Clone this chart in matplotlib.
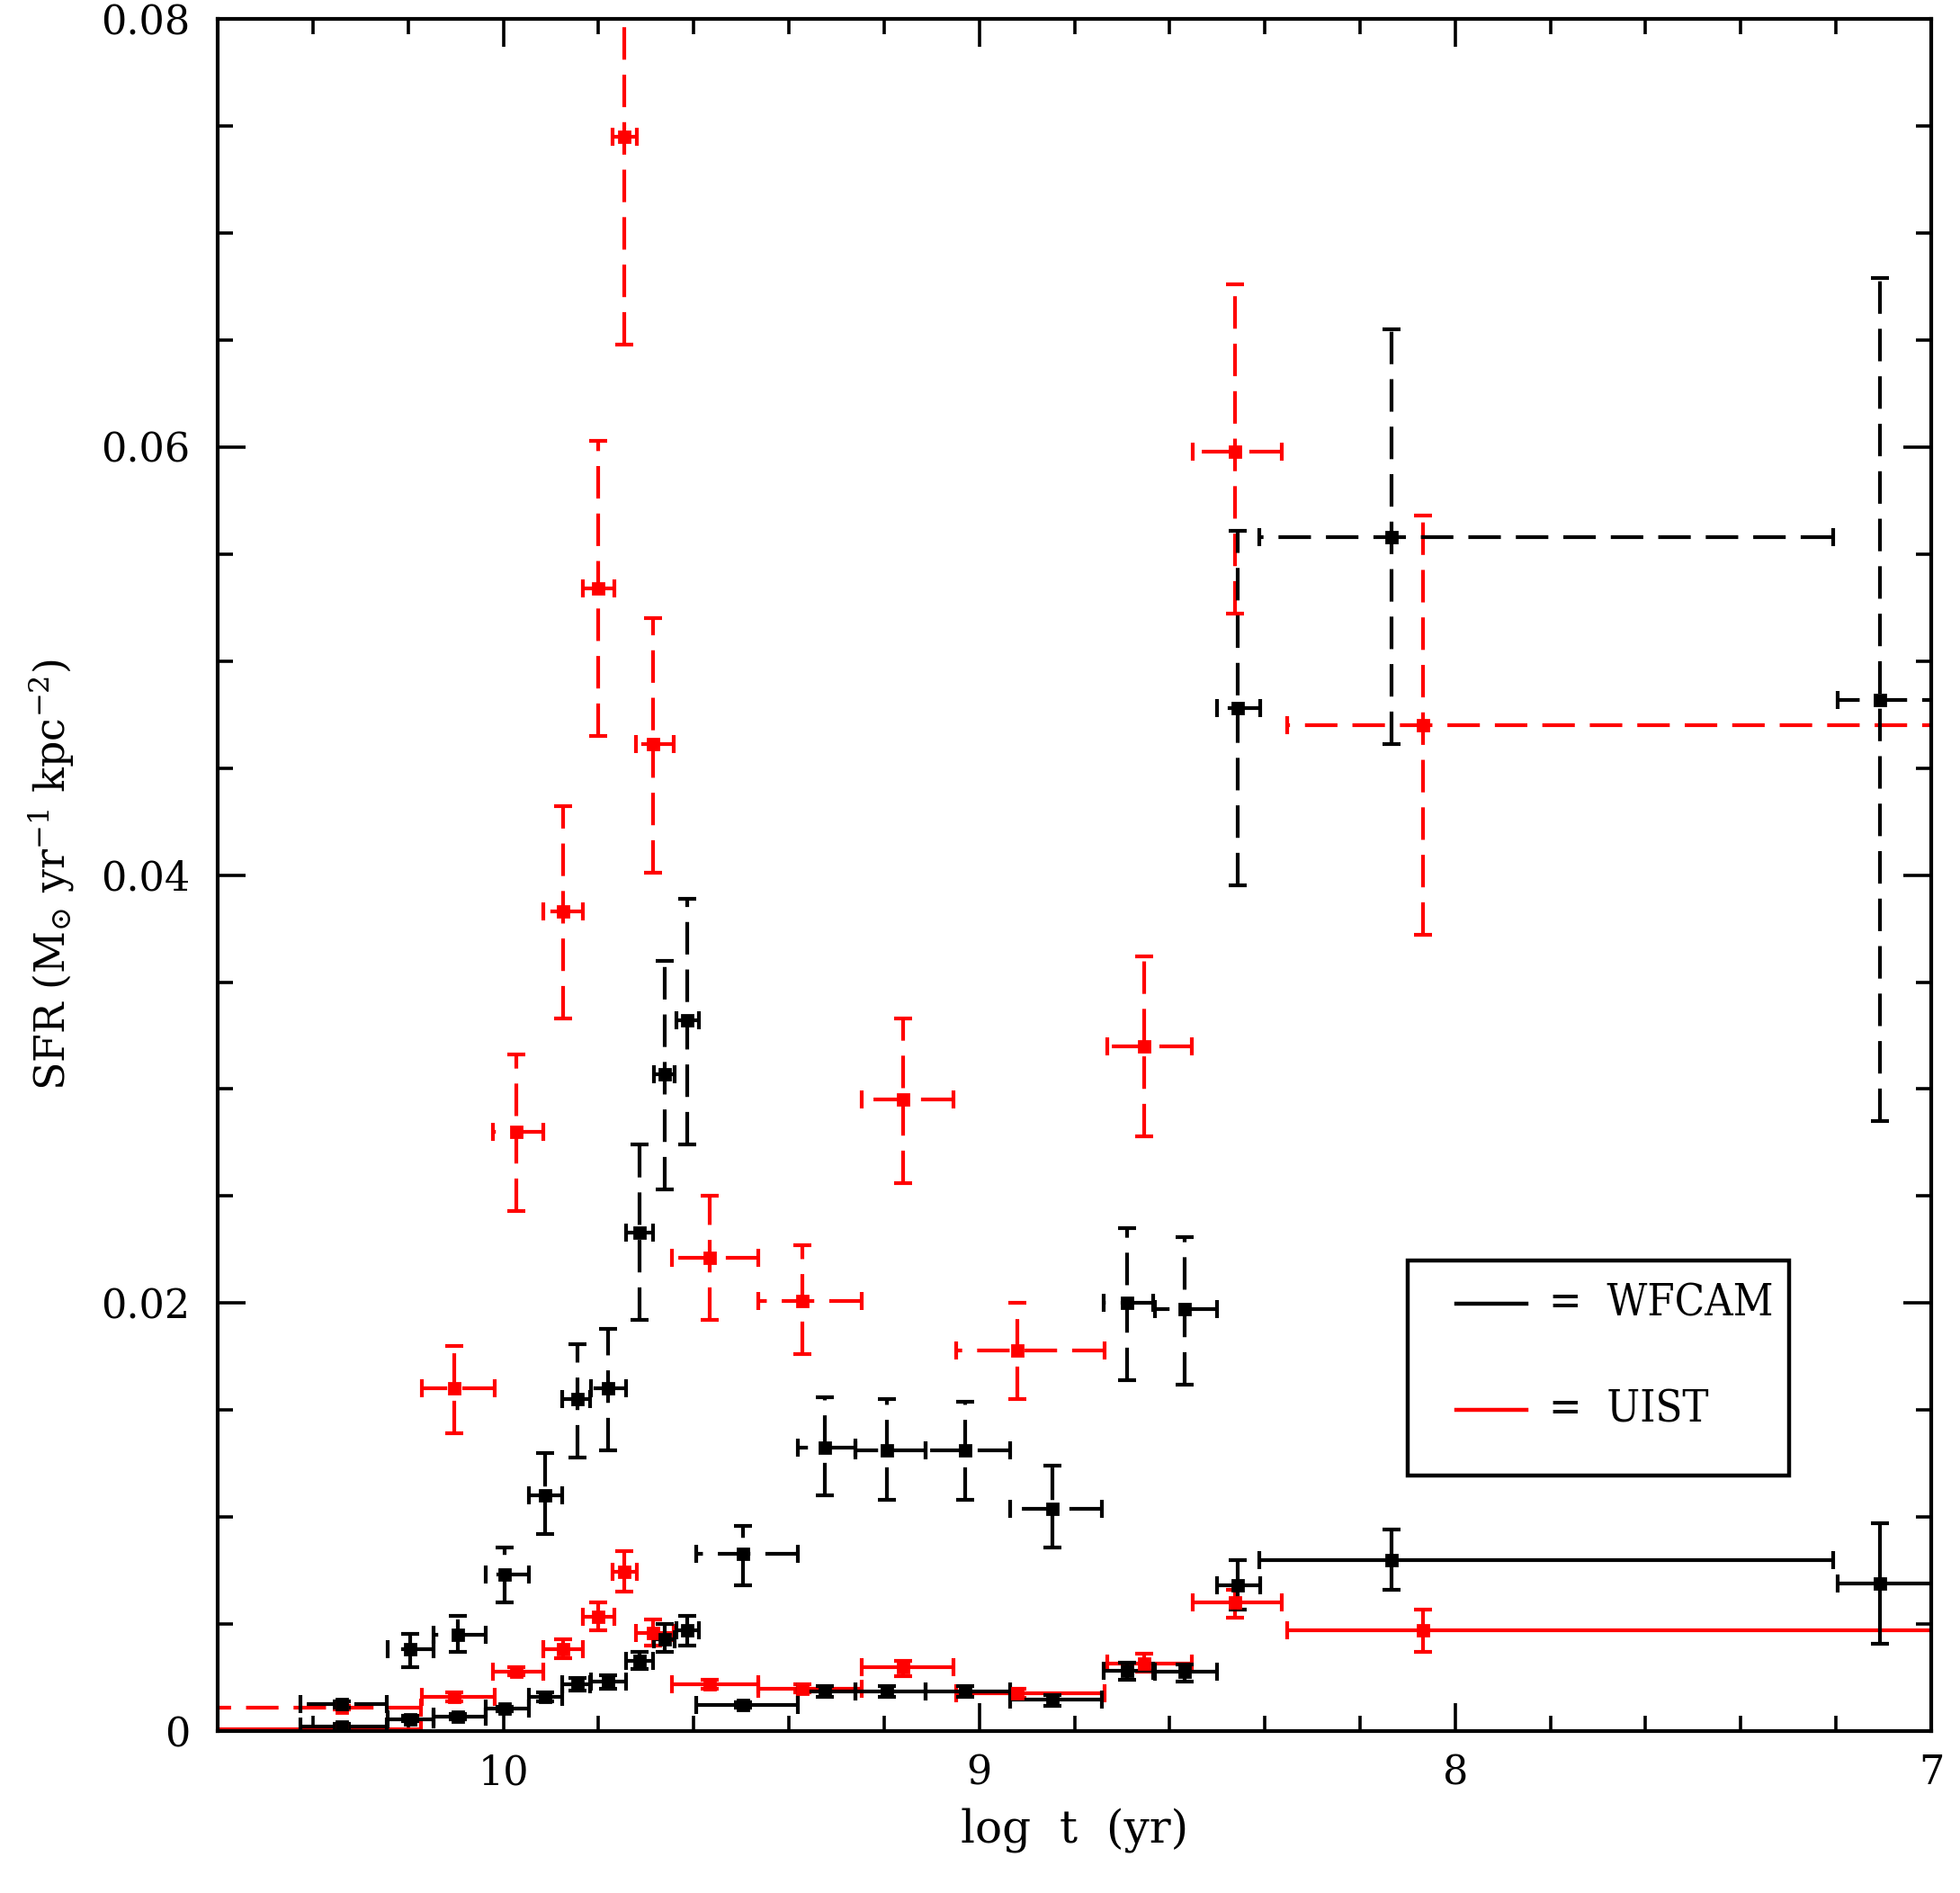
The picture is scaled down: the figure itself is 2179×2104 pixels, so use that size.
import matplotlib
matplotlib.use("Agg")
import matplotlib.pyplot as plt
import numpy as np

plt.rcParams['font.family'] = ['DejaVu Serif']
plt.rcParams['mathtext.fontset'] = 'dejavuserif'
plt.rcParams['lines.scale_dashes'] = False

# WFCAM age bins (log t): centre, old edge, young edge
wf_t = [10.34, 10.195, 10.095, 9.997, 9.912, 9.845, 9.78, 9.714, 9.66, 9.614,
        9.497, 9.325, 9.195, 9.03, 8.847, 8.689, 8.569, 8.457, 8.134, 7.107]
wf_old = [10.426, 10.243, 10.146, 10.037, 9.947, 9.876, 9.815, 9.742, 9.683, 9.637,
          9.594, 9.381, 9.261, 9.113, 8.935, 8.739, 8.631, 8.50, 8.411, 7.197]
wf_young = [10.245, 10.146, 10.037, 9.947, 9.877, 9.817, 9.742, 9.685, 9.64, 9.59,
            9.381, 9.261, 9.113, 8.935, 8.742, 8.634, 8.50, 8.41, 7.205, 6.95]

# WFCAM, solid solution
wf1_sfr = [0.00022, 0.00056, 0.00066, 0.00105, 0.0016, 0.0022, 0.0023, 0.0033, 0.0043, 0.0047,
           0.00122, 0.00186, 0.00186, 0.00186, 0.00148, 0.00283, 0.00276, 0.0068, 0.0080, 0.0069]
wf1_lo = [0.0001, 0.00045, 0.00055, 0.00095, 0.0014, 0.0019, 0.0020, 0.0029, 0.0037, 0.0040,
          0.0011, 0.0016, 0.0016, 0.0016, 0.0012, 0.0024, 0.0023, 0.0057, 0.0066, 0.0041]
wf1_hi = [0.00035, 0.0007, 0.0008, 0.00115, 0.0018, 0.0025, 0.0026, 0.0037, 0.0050, 0.0054,
          0.00135, 0.0021, 0.0021, 0.0021, 0.0017, 0.0032, 0.0031, 0.0080, 0.0094, 0.0097]

# WFCAM, dashed solution
wf2_sfr = [0.00126, 0.00385, 0.0045, 0.0073, 0.0110, 0.0155, 0.0160, 0.0233, 0.0307, 0.0332,
           0.0083, 0.01326, 0.0131, 0.0131, 0.0104, 0.0200, 0.0197, 0.0478, 0.0558, 0.0482]
wf2_lo = [0.0011, 0.0030, 0.0037, 0.0060, 0.0092, 0.0128, 0.0131, 0.0192, 0.0253, 0.0274,
          0.0068, 0.0110, 0.0108, 0.0108, 0.0086, 0.0164, 0.0162, 0.0395, 0.0461, 0.0285]
wf2_hi = [0.0014, 0.00455, 0.0054, 0.0086, 0.0130, 0.0181, 0.0188, 0.0274, 0.0360, 0.0389,
          0.0096, 0.0156, 0.0155, 0.0154, 0.0124, 0.0235, 0.0231, 0.0561, 0.0655, 0.0679]

# UIST age bins
ui_t = [10.34, 10.103, 9.973, 9.874, 9.8, 9.745, 9.685, 9.566, 9.371, 9.16, 8.92, 8.654, 8.463, 8.068]
ui_old = [10.65, 10.172, 10.021, 9.916, 9.832, 9.77, 9.722, 9.645, 9.465, 9.247, 9.049, 8.732, 8.551, 8.353]
ui_young = [10.173, 10.019, 9.916, 9.832, 9.766, 9.72, 9.642, 9.465, 9.247, 9.055, 8.736, 8.554, 8.364, 6.95]

# UIST, solid solution
ui1_sfr = [0.0001, 0.0016, 0.0028, 0.00385, 0.00534, 0.00745, 0.0046, 0.00218, 0.0020, 0.00297,
           0.00175, 0.00315, 0.0060, 0.0047]
ui1_lo = [0.0, 0.0014, 0.0026, 0.0034, 0.0047, 0.0065, 0.0040, 0.0020, 0.0018, 0.00255,
          0.00155, 0.0028, 0.0053, 0.0037]
ui1_hi = [0.0002, 0.0018, 0.0030, 0.0043, 0.0060, 0.0084, 0.0052, 0.0024, 0.0022, 0.0033,
          0.0020, 0.0036, 0.0066, 0.0057]

# UIST, dashed solution
ui2_sfr = [0.0011, 0.0160, 0.0280, 0.0383, 0.0534, 0.0745, 0.0461, 0.0221, 0.0201, 0.0295,
           0.0178, 0.0320, 0.0598, 0.0470]
ui2_lo = [0.0010, 0.0139, 0.0243, 0.0333, 0.0465, 0.0648, 0.0401, 0.0192, 0.0176, 0.0256,
          0.0155, 0.0278, 0.0522, 0.0372]
ui2_hi = [0.0012, 0.0180, 0.0316, 0.0432, 0.0603, 0.0860, 0.0520, 0.0250, 0.0227, 0.0333,
          0.0200, 0.0362, 0.0676, 0.0568]

DASH = (0, (13, 6))
LW = 1.5


def draw(ax, t, old, young, sfr, lo, hi, color, dashed):
    t = np.array(t); sfr = np.array(sfr)
    xerr = [t - np.array(young), np.array(old) - t]
    yerr = [sfr - np.array(lo), np.array(hi) - sfr]
    eb = ax.errorbar(t, sfr, xerr=xerr, yerr=yerr, fmt='s', color=color, ms=4.4,
                     elinewidth=LW, capsize=3.6, capthick=LW)
    if dashed:
        for lc in eb[2]:
            lc.set_linestyle(DASH)


fig = plt.figure(figsize=(2179 / 200, 2104 / 200), dpi=200)
ax = fig.add_axes([0.1111, 0.0855, 0.8742, 0.9045])

draw(ax, ui_t, ui_old, ui_young, ui2_sfr, ui2_lo, ui2_hi, '#ff0000', True)
draw(ax, ui_t, ui_old, ui_young, ui1_sfr, ui1_lo, ui1_hi, '#ff0000', False)
draw(ax, wf_t, wf_old, wf_young, wf2_sfr, wf2_lo, wf2_hi, 'black', True)
draw(ax, wf_t, wf_old, wf_young, wf1_sfr, wf1_lo, wf1_hi, 'black', False)

ax.set_xlim(10.6, 7.0)
ax.set_ylim(0, 0.08)
ax.set_xticks([10, 9, 8, 7])
ax.set_xticklabels(['10', '9', '8', '7'])
ax.set_xticks(np.arange(7.0, 10.61, 0.2), minor=True)
ax.set_yticks([0, 0.02, 0.04, 0.06, 0.08])
ax.set_yticklabels(['0', '0.02', '0.04', '0.06', '0.08'])
ax.set_yticks(np.arange(0, 0.0801, 0.005), minor=True)
ax.tick_params(which='both', direction='in', top=True, right=True, width=1.3,
               labelsize=16)
ax.tick_params(which='major', length=11)
ax.tick_params(axis='y', which='major', pad=11)
ax.tick_params(axis='x', which='major', pad=9)
ax.tick_params(which='minor', length=6)
for s in ax.spines.values():
    s.set_linewidth(1.5)

ax.set_xlabel('log  t  (yr)', fontsize=18, labelpad=6)
ax.set_ylabel(r'SFR (M$_{\odot}$ yr$^{-1}$ kpc$^{-2}$)', fontsize=16.5, labelpad=10)

# legend box
ax.add_patch(plt.Rectangle((0.6945, 0.1492), 0.2225, 0.1256, transform=ax.transAxes,
                           fill=False, lw=1.6, ec='black', zorder=5))
ax.plot([0.7226, 0.764], [0.2496, 0.2496], transform=ax.transAxes, color='black', lw=1.6)
ax.plot([0.7226, 0.764], [0.1876, 0.1876], transform=ax.transAxes, color='#ff0000', lw=1.6)
ax.text(0.777, 0.2496, '=  WFCAM', transform=ax.transAxes, fontsize=17.5, va='center',
        fontstretch='condensed')
ax.text(0.777, 0.1876, '=  UIST', transform=ax.transAxes, fontsize=17.5, va='center',
        fontstretch='condensed')

fig.savefig('out.png', dpi=200)
